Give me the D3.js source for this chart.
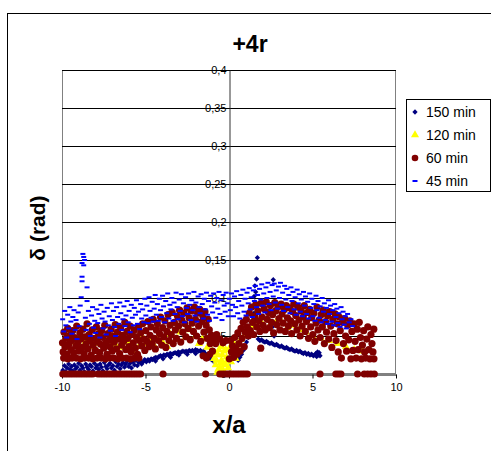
<!DOCTYPE html>
<html><head><meta charset="utf-8">
<script src="https://cdn.jsdelivr.net/npm/d3@7"></script>
<style>body{margin:0;background:#fff}svg{display:block}text{font-family:"Liberation Sans",Arial,sans-serif}</style>
</head><body>
<script>
const titleText = "+4r";
const xLabel = "x/a";
const yLabel = "δ (rad)";
const xTicks = [-10, -5, 0, 5, 10];
const yTicks = [0, 0.05, 0.1, 0.15, 0.2, 0.25, 0.3, 0.35, 0.4];
const yTickLabels = ["0", "0,05", "0,1", "0,15", "0,2", "0,25", "0,3", "0,35", "0,4"];
const seriesNames = ["150 min", "120 min", "60 min", "45 min"];
const seriesColors = ["#000080", "#FFFF00", "#800000", "#0000FF"];

const s150 = [[-9.95,0.005],[-9.85,0.011],[-9.78,0.003],[-9.7,0.008],[-9.6,0.013],[-9.52,0.006],[-9.43,0.010],[-9.35,0.004],[-9.26,0.012],[-9.18,0.007],[-9.1,0.009],[-9.0,0.014],[-8.92,0.005],[-8.83,0.011],[-8.75,0.008],[-8.66,0.003],[-8.58,0.013],[-8.5,0.009],[-8.41,0.006],[-8.32,0.012],[-8.24,0.010],[-8.15,0.004],[-8.06,0.014],[-7.98,0.008],[-7.9,0.011],[-7.81,0.006],[-7.72,0.013],[-7.64,0.009],[-7.55,0.004],[-7.46,0.015],[-7.38,0.010],[-7.3,0.007],[-7.21,0.012],[-7.12,0.014],[-7.04,0.008],[-6.95,0.011],[-6.86,0.005],[-6.78,0.016],[-6.7,0.010],[-6.61,0.013],[-6.52,0.007],[-6.44,0.012],[-6.35,0.015],[-6.26,0.009],[-6.18,0.013],[-6.1,0.017],[-6.01,0.010],[-5.92,0.014],[-5.84,0.008],[-5.75,0.016],[-5.66,0.012],[-5.58,0.018],[-5.49,0.011],[-5.4,0.015],[-5.32,0.017],[-5.23,0.013],[-5.14,0.016],[-5.05,0.019],
[-4.95,0.016],[-4.85,0.019],[-4.76,0.017],[-4.66,0.020],[-4.57,0.019],[-4.47,0.021],[-4.38,0.022],[-4.28,0.021],[-4.19,0.023],[-4.1,0.024],[-4.0,0.023],[-3.9,0.025],[-3.8,0.024],[-3.71,0.026],[-3.61,0.025],[-3.52,0.027],[-3.42,0.026],[-3.33,0.027],[-3.23,0.028],[-3.14,0.027],[-3.04,0.029],[-2.95,0.028],[-2.85,0.029],[-2.76,0.030],[-2.66,0.029],[-2.57,0.030],[-2.47,0.029],[-2.38,0.031],[-2.28,0.030],[-2.19,0.031],[-2.09,0.030],[-2.0,0.032],[-1.9,0.031],[-1.81,0.030],[-1.71,0.031],[-1.62,0.029],[-1.52,0.030],[-1.43,0.027],[-1.33,0.025],[-1.24,0.023],[-1.14,0.021],[-1.05,0.019],[-0.95,0.017],[-4.4,0.017],[-3.95,0.020],[-3.5,0.022],[-3.0,0.025],[-2.5,0.026],[-2.0,0.027],[-1.6,0.026],
[0.55,0.018],[0.65,0.022],[0.75,0.026],[0.85,0.031],[0.95,0.036],[1.05,0.042],[1.15,0.048],[1.22,0.055],[1.3,0.060],[1.38,0.066],[1.45,0.072],[1.5,0.080],[1.48,0.088],[1.55,0.095],[1.5,0.102],[1.6,0.108],[1.55,0.116],[1.65,0.125],[1.7,0.153],[2.65,0.124],[1.7,0.085],[1.62,0.070],[2.6,0.062],[2.7,0.050],[1.75,0.060],
[1.75,0.046],[1.85,0.044],[1.95,0.045],[2.05,0.043],[2.15,0.042],[2.25,0.043],[2.35,0.041],[2.45,0.040],[2.55,0.041],[2.65,0.039],[2.75,0.038],[2.85,0.039],[2.95,0.037],[3.05,0.036],[3.15,0.037],[3.25,0.035],[3.35,0.034],[3.45,0.035],[3.55,0.033],[3.65,0.032],[3.75,0.033],[3.85,0.031],[3.95,0.030],[4.05,0.031],[4.15,0.029],[4.25,0.030],[4.35,0.028],[4.45,0.027],[4.55,0.028],[4.65,0.026],[4.75,0.027],[4.85,0.025],[4.95,0.026],[5.05,0.024],[5.15,0.025],[5.25,0.023],[5.35,0.025],[5.45,0.024],[5.4,0.028],[5.3,0.029],[5.2,0.027]];

const s120 = [[-9.9,0.040],[-9.8,0.046],[-9.7,0.035],[-9.5,0.050],[-9.3,0.042],[-9.1,0.038],[-8.9,0.047],[-8.6,0.043],[-8.4,0.051],[-8.2,0.036],[-8.0,0.045],[-7.8,0.040],[-7.6,0.048],[-7.4,0.037],[-7.2,0.043],[-7.0,0.050],[-6.8,0.039],[-6.6,0.045],[-6.4,0.035],[-6.2,0.047],[-6.0,0.041],[-5.8,0.030],[-5.6,0.044],[-5.4,0.036],[-5.2,0.049],[-5.0,0.040],[-4.8,0.045],[-4.5,0.038],[-4.3,0.048],[-4.0,0.043],[-3.7,0.036],[-3.5,0.052],[-3.2,0.045],[-2.9,0.055],[-2.6,0.048],[-2.3,0.058],[-2.0,0.050],[-1.8,0.040],[-1.6,0.046],[-1.3,0.035],[-1.0,0.030],[-0.9,0.020],[-0.8,0.012],[-0.7,0.002],[-0.65,0.025],[-0.55,0.008],[-0.45,0.018],[-0.35,0.005],[-0.3,0.030],[-0.22,0.013],[-0.15,0.022],[-0.05,0.008],[0.05,0.035],[0.12,0.016],[0.25,0.042],[0.3,0.026],[0.4,0.020],[0.45,0.038],[0.55,0.030],[0.7,0.045],[-0.85,0.028],[-0.75,0.018],[-0.6,0.032],[-0.5,0.015],[-0.4,0.025],[-0.3,0.012],[-0.2,0.032],[-0.1,0.018],[-0.45,0.036],[-0.65,0.006],[0.9,0.050],[1.2,0.055],[1.4,0.062],[1.55,0.064],[2.0,0.066],[2.4,0.062],[2.8,0.068],[3.2,0.067],[3.5,0.061],[3.8,0.064],[4.2,0.058],[4.6,0.055],[5.0,0.050],[5.5,0.047],[6.0,0.044],[6.5,0.040],[7.0,0.036],[7.5,0.032],[8.0,0.030]];

const s60 = [[-9.95,0],[-9.8,0],[-9.65,0],[-9.5,0],[-9.35,0],[-9.2,0],[-9.05,0],[-8.9,0],[-8.75,0],[-8.6,0],[-8.45,0],[-8.3,0],[-8.15,0],[-7.85,0],[-7.7,0],[-7.55,0],[-7.4,0],[-7.25,0],[-7.1,0],[-6.95,0],[-6.8,0],[-6.65,0],[-6.5,0],[-6.35,0],[-6.2,0],[-6.05,0],[-5.9,0],[-5.75,0],[-5.6,0],[-5.45,0],[-5.3,0],[-3.95,0],[-1.4,0],[-0.55,0],[-0.4,0],[-0.25,0],[-0.1,0],[0.05,0],[0.2,0],[0.35,0],[0.5,0],[0.65,0],[0.8,0],[0.95,0],[1.1,0],[5.45,0],[6.4,0],[6.55,0],[6.7,0],[7.7,0],[8.1,0],[8.3,0],[8.5,0],[8.7,0],
[-9.9,0.021],[-9.65,0.020],[-9.4,0.021],[-9.15,0.021],[-8.9,0.020],[-8.65,0.021],[-8.4,0.021],[-8.15,0.020],[-7.9,0.021],[-7.65,0.021],[-7.4,0.020],[-7.15,0.021],[-6.9,0.021],[-6.65,0.020],[-6.4,0.021],[-6.15,0.021],[-5.9,0.020],[-5.65,0.021],[-5.4,0.021],
[-9.97,0.041],[-9.93,0.029],[-9.88,0.055],[-9.82,0.036],[-9.76,0.047],[-9.7,0.026],[-9.66,0.060],[-9.6,0.039],[-9.53,0.051],[-9.47,0.032],[-9.42,0.044],[-9.36,0.057],[-9.3,0.028],[-9.24,0.048],[-9.17,0.037],[-9.12,0.063],[-9.05,0.042],[-8.99,0.030],[-8.93,0.054],[-8.87,0.046],[-8.8,0.035],[-8.74,0.059],[-8.68,0.027],[-8.62,0.049],[-8.55,0.040],[-8.5,0.066],[-8.44,0.033],[-8.38,0.052],[-8.31,0.044],[-8.25,0.025],[-8.19,0.058],[-8.13,0.038],[-8.06,0.047],[-8.0,0.031],[-7.94,0.062],[-7.88,0.043],[-7.81,0.053],[-7.75,0.028],[-7.69,0.039],[-7.62,0.057],[-7.56,0.048],[-7.5,0.034],[-7.44,0.064],[-7.37,0.041],[-7.31,0.026],[-7.25,0.053],[-7.18,0.045],[-7.12,0.036],[-7.06,0.059],[-7.0,0.030],[-6.93,0.050],[-6.87,0.042],[-6.81,0.065],[-6.74,0.033],[-6.68,0.055],[-6.62,0.046],[-6.55,0.027],[-6.49,0.061],[-6.43,0.038],[-6.37,0.051],[-6.3,0.043],[-6.24,0.068],[-6.18,0.032],[-6.11,0.056],[-6.05,0.047],[-5.99,0.036],[-5.92,0.063],[-5.86,0.029],[-5.8,0.052],[-5.73,0.041],[-5.67,0.058],[-5.61,0.034],[-5.55,0.049],[-5.48,0.026],[-5.42,0.062],[-5.36,0.044],[-5.29,0.054],[-5.23,0.037],[-5.17,0.066],[-5.1,0.046],
[-5.04,0.031],[-4.98,0.057],[-4.92,0.043],[-4.86,0.069],[-4.79,0.036],[-4.73,0.051],[-4.67,0.062],[-4.6,0.040],[-4.54,0.072],[-4.48,0.047],[-4.41,0.033],[-4.35,0.058],[-4.29,0.066],[-4.22,0.044],[-4.16,0.053],[-4.1,0.075],[-4.03,0.038],[-3.97,0.061],[-3.91,0.049],[-3.84,0.070],[-3.78,0.035],[-3.72,0.056],[-3.65,0.078],[-3.59,0.044],[-3.53,0.064],[-3.46,0.052],[-3.4,0.081],[-3.34,0.040],[-3.27,0.068],[-3.21,0.058],[-3.15,0.047],[-3.08,0.076],[-3.02,0.063],[-2.96,0.084],[-2.89,0.042],[-2.83,0.071],[-2.77,0.055],[-2.7,0.080],[-2.64,0.066],[-2.58,0.049],[-2.51,0.087],[-2.45,0.060],[-2.39,0.074],[-2.32,0.045],[-2.26,0.083],[-2.2,0.067],[-2.13,0.056],[-2.07,0.088],[-2.01,0.072],[-1.94,0.050],[-1.88,0.080],[-1.82,0.063],[-1.75,0.085],[-1.69,0.043],[-1.63,0.069],[-1.56,0.076],[-1.5,0.055],[-1.44,0.082],[-1.37,0.064],[-1.31,0.047],[-1.25,0.072],
[-1.18,0.058],[-1.12,0.040],[-1.05,0.051],[-0.99,0.030],[-0.93,0.046],[-0.8,0.040],[-0.74,0.052],[-0.55,0.046],[-0.36,0.041],[-0.17,0.044],[0.02,0.020],[0.09,0.044],[0.15,0.029],[0.21,0.037],[0.28,0.022],[0.34,0.048],[0.4,0.033],[0.47,0.026],[0.53,0.054],[0.59,0.040],[0.66,0.030],[0.72,0.060],[0.78,0.047],[0.85,0.068],[0.91,0.036],[0.97,0.055],[1.04,0.072],[1.1,0.062],[1.16,0.050],[-1.55,0.024],[-1.35,0.021],[-1.15,0.026],
[1.22,0.080],[1.28,0.057],[1.35,0.088],[1.41,0.068],[1.47,0.052],[1.54,0.076],[1.6,0.091],[1.66,0.062],[1.73,0.083],[1.79,0.070],[1.85,0.056],[1.9,0.034],[1.92,0.093],[1.98,0.075],[2.04,0.064],[2.1,0.086],[2.17,0.058],[2.23,0.095],[2.29,0.072],[2.36,0.081],[2.42,0.061],[2.48,0.090],[2.55,0.068],[2.61,0.078],[2.67,0.054],[2.74,0.094],[2.8,0.083],[2.86,0.065],[2.93,0.088],[2.99,0.073],[3.05,0.058],[3.12,0.092],[3.18,0.079],[3.24,0.067],[3.31,0.085],[3.37,0.056],[3.43,0.090],[3.5,0.074],[3.56,0.063],[3.62,0.087],[3.69,0.070],[3.75,0.053],[3.81,0.082],[3.88,0.092],[3.94,0.066],[4.0,0.077],[4.07,0.058],[4.13,0.088],[4.19,0.071],[4.26,0.050],[4.32,0.083],[4.38,0.063],[4.45,0.075],[4.51,0.090],[4.57,0.056],[4.64,0.069],[4.7,0.081],[4.76,0.047],
[4.83,0.085],[4.89,0.062],[4.95,0.074],[5.02,0.052],[5.08,0.080],[5.14,0.043],[5.21,0.067],[5.27,0.088],[5.33,0.058],[5.4,0.071],[5.46,0.048],[5.52,0.078],[5.59,0.062],[5.65,0.084],[5.71,0.040],[5.78,0.069],[5.84,0.055],[5.9,0.077],[5.97,0.046],[6.03,0.082],[6.09,0.063],[6.16,0.035],[6.22,0.072],[6.28,0.053],[6.35,0.079],[6.41,0.044],[6.47,0.066],[6.54,0.029],[6.6,0.075],[6.66,0.057],[6.73,0.021],[6.79,0.068],[6.85,0.040],[6.92,0.073],[6.98,0.050],[7.04,0.030],[7.11,0.064],[7.17,0.045],[7.23,0.070],[7.3,0.020],[7.36,0.056],[7.42,0.031],[7.49,0.066],[7.55,0.043],[7.61,0.021],[7.68,0.059],[7.74,0.032],[7.8,0.068],[7.87,0.048],[7.93,0.020],[7.99,0.038],[8.06,0.057],[8.12,0.029],[8.18,0.021],[8.25,0.046],[8.31,0.062],[8.37,0.032],[8.44,0.020],[8.5,0.052],[8.56,0.040],[8.62,0.029],[8.67,0.059],[8.68,0.020]];

const s45 = [[-8.75,0.158],[-8.7,0.154],[-8.65,0.150],[-8.8,0.146],[-8.7,0.143],[-8.8,0.128],[-8.8,0.122],[-8.5,0.114],[-8.85,0.101],[-8.5,0.096],
[-9.96,0.072],[-9.9,0.056],[-9.84,0.083],[-9.77,0.064],[-9.72,0.048],[-9.66,0.078],[-9.6,0.060],[-9.53,0.088],[-9.47,0.069],[-9.41,0.053],[-9.35,0.075],[-9.28,0.084],[-9.22,0.058],[-9.16,0.071],[-9.1,0.046],[-9.03,0.081],[-8.97,0.063],[-8.91,0.090],[-8.6,0.074],[-8.55,0.058],[-8.42,0.083],[-8.36,0.066],[-8.3,0.050],[-8.23,0.077],[-8.17,0.088],[-8.11,0.061],[-8.04,0.070],[-7.98,0.054],[-7.92,0.085],[-7.86,0.067],[-7.79,0.079],[-7.73,0.048],[-7.67,0.091],[-7.6,0.073],[-7.54,0.060],[-7.48,0.082],[-7.42,0.069],[-7.35,0.052],[-7.29,0.087],[-7.23,0.064],[-7.17,0.076],[-7.1,0.057],[-7.04,0.093],[-6.98,0.071],[-6.92,0.083],[-6.85,0.062],[-6.79,0.050],[-6.73,0.088],[-6.67,0.075],[-6.6,0.066],[-6.54,0.094],[-6.48,0.080],[-6.42,0.058],[-6.35,0.072],[-6.29,0.089],[-6.23,0.063],[-6.17,0.077],[-6.1,0.096],[-6.04,0.068],[-5.98,0.083],[-5.92,0.055],[-5.85,0.091],[-5.79,0.074],[-5.73,0.064],[-5.67,0.087],[-5.6,0.078],[-5.54,0.097],[-5.48,0.066],[-5.42,0.082],[-5.35,0.059],[-5.29,0.092],[-5.23,0.073],[-5.17,0.085],[-5.1,0.068],[-5.04,0.099],
[-4.98,0.077],[-4.92,0.090],[-4.85,0.067],[-4.79,0.101],[-4.73,0.083],[-4.67,0.074],[-4.6,0.095],[-4.54,0.069],[-4.48,0.086],[-4.42,0.104],[-4.35,0.078],[-4.29,0.092],[-4.23,0.070],[-4.17,0.099],[-4.1,0.084],[-4.04,0.075],[-3.98,0.103],[-3.92,0.089],[-3.85,0.068],[-3.79,0.096],[-3.73,0.080],[-3.67,0.106],[-3.6,0.073],[-3.54,0.091],[-3.48,0.085],[-3.42,0.100],[-3.35,0.070],[-3.29,0.094],[-3.23,0.079],[-3.17,0.107],[-3.1,0.088],[-3.04,0.072],[-2.98,0.098],[-2.92,0.083],[-2.85,0.105],[-2.79,0.076],[-2.73,0.093],[-2.67,0.068],[-2.6,0.101],[-2.54,0.087],[-2.48,0.079],[-2.42,0.106],[-2.35,0.091],[-2.29,0.071],[-2.23,0.097],[-2.17,0.084],[-2.1,0.108],[-2.04,0.077],[-1.98,0.094],[-1.92,0.069],[-1.85,0.102],[-1.79,0.088],[-1.73,0.080],[-1.67,0.105],[-1.6,0.092],[-1.54,0.073],[-1.48,0.099],[-1.42,0.085],[-1.35,0.107],[-1.29,0.078],[-1.23,0.096],[-1.17,0.070],[-1.1,0.103],[-1.04,0.089],[-0.98,0.081],[-0.92,0.106],[-0.85,0.094],[-0.79,0.074],[-0.73,0.100],[-0.67,0.086],[-0.6,0.108],[-0.54,0.079],[-0.48,0.097],[-0.42,0.071],[-0.35,0.104],[-0.29,0.090],[-0.23,0.082],[-0.17,0.107],[-0.1,0.093],[-0.04,0.076],
[0.02,0.099],[0.08,0.084],[0.15,0.106],[0.21,0.091],[0.27,0.076],[0.33,0.102],[0.4,0.088],[0.46,0.109],[0.52,0.080],[0.58,0.096],[0.65,0.073],[0.71,0.104],[0.77,0.090],[0.83,0.111],[0.9,0.082],[0.96,0.099],[1.02,0.077],[1.08,0.107],[1.15,0.093],[1.21,0.113],[1.27,0.085],[1.33,0.101],[1.4,0.075],[1.46,0.110],[1.52,0.096],[1.58,0.116],[1.65,0.088],[1.71,0.104],[1.77,0.079],[1.83,0.112],[1.9,0.098],[1.96,0.118],[2.02,0.090],[2.08,0.106],[2.15,0.081],[2.21,0.114],[2.27,0.100],[2.33,0.120],[2.4,0.092],[2.46,0.108],[2.52,0.084],[2.58,0.117],[2.65,0.102],[2.71,0.119],[2.77,0.094],[2.83,0.110],[2.9,0.086],[2.96,0.115],[3.02,0.100],[3.08,0.120],[3.15,0.091],[3.21,0.107],[3.27,0.083],[3.33,0.116],[3.4,0.098],[3.46,0.112],[3.52,0.088],[3.58,0.104],[3.65,0.080],[3.71,0.114],[3.77,0.096],[3.83,0.108],[3.9,0.085],[3.96,0.101],[4.02,0.078],[4.08,0.111],[4.15,0.093],[4.21,0.105],[4.27,0.082],[4.33,0.098],[4.4,0.076],[4.46,0.108],[4.52,0.090],[4.58,0.102],[4.65,0.079],[4.71,0.095],[4.77,0.073],[4.83,0.106],[4.9,0.087],[4.96,0.099],[5.02,0.076],[5.08,0.092],[5.15,0.070],[5.21,0.103],[5.27,0.084],[5.33,0.096],[5.4,0.074],[5.46,0.089],[5.52,0.068],[5.58,0.100],[5.65,0.082],[5.71,0.093],[5.77,0.071],[5.83,0.087],[5.9,0.066],[5.96,0.097],[6.02,0.079],[6.08,0.090],[6.15,0.069],[6.21,0.084],[6.27,0.064],[6.33,0.092],[6.4,0.075],[6.46,0.086],[6.52,0.067],[6.58,0.080],[6.65,0.062],[6.71,0.088],[6.77,0.072],[6.83,0.082],[6.9,0.065],[6.96,0.076],[7.02,0.060],[7.1,0.079],[7.2,0.068],[7.3,0.072],[7.4,0.063]];

const W = 491, H = 451;
const svg = d3.select("body").append("svg").attr("width", W).attr("height", H);
svg.append("rect").attr("x", 7.5).attr("y", 13.5).attr("width", 500).attr("height", 500)
  .attr("fill", "#fff").attr("stroke", "#000").attr("stroke-width", 1);

const x = d3.scaleLinear().domain([-10, 10]).range([62, 396]);
const y = d3.scaleLinear().domain([0, 0.4]).range([374, 70]);

svg.append("rect").attr("x", 62.5).attr("y", 70.5).attr("width", 333).attr("height", 303)
  .attr("fill", "#fff").attr("stroke", "#808080");
svg.append("g").selectAll("line").data(yTicks.filter(d => d > 0)).join("line")
  .attr("x1", 62).attr("x2", 396)
  .attr("y1", d => Math.round(y(d)) + 0.5).attr("y2", d => Math.round(y(d)) + 0.5)
  .attr("stroke", "#000").attr("stroke-width", 1);

const yAxis = svg.append("g").attr("transform", `translate(${Math.round(x(0)) + 0.5},0)`)
  .call(d3.axisLeft(y).tickValues(yTicks).tickSize(4).tickSizeOuter(0)
    .tickFormat((d, i) => yTickLabels[i]));
yAxis.select(".domain").attr("stroke", "#333");
yAxis.selectAll("text").attr("font-size", 11).attr("fill", "#000").attr("x", -3);

const xAxis = svg.append("g").attr("transform", `translate(0,${Math.round(y(0)) + 0.5})`)
  .call(d3.axisBottom(x).tickValues(xTicks).tickSize(4).tickSizeOuter(0).tickFormat(d3.format("d")));
xAxis.select(".domain").attr("stroke", "#000");
xAxis.selectAll("text").attr("font-size", 11).attr("fill", "#000").attr("dy", "0.9em")
  .text(d => d < 0 ? "-" + Math.abs(d) : d);

const g = svg.append("g");
const diamond = d3.symbol().type(d3.symbolSquare).size(14)();
const tri = d3.symbol().type(d3.symbolTriangle).size(28)();

g.append("g").selectAll("path").data(s150).join("path")
  .attr("d", diamond).attr("fill", seriesColors[0])
  .attr("transform", d => `translate(${x(d[0])},${y(d[1])}) rotate(45)`);
g.append("g").selectAll("path").data(s120).join("path")
  .attr("d", tri).attr("fill", seriesColors[1])
  .attr("transform", d => `translate(${x(d[0])},${y(d[1])})`);
g.append("g").selectAll("circle").data(s60).join("circle")
  .attr("cx", d => x(d[0])).attr("cy", d => y(d[1])).attr("r", 3.6).attr("fill", seriesColors[2]);
g.append("g").selectAll("rect").data(s45).join("rect")
  .attr("x", d => x(d[0]) - 2.5).attr("y", d => y(d[1]) - 1).attr("width", 5).attr("height", 2)
  .attr("fill", seriesColors[3]);

svg.append("text").attr("x", 250).attr("y", 52).attr("text-anchor", "middle")
  .attr("font-size", 23).attr("font-weight", "bold").text(titleText);
svg.append("text").attr("x", 229).attr("y", 433).attr("text-anchor", "middle")
  .attr("font-size", 24).attr("font-weight", "bold").text(xLabel);
svg.append("text").attr("transform", "translate(45,228) rotate(-90)").attr("text-anchor", "middle")
  .attr("font-size", 21).attr("font-weight", "bold").text(yLabel);

const lg = svg.append("g");
lg.append("rect").attr("x", 406.5).attr("y", 99.5).attr("width", 84).attr("height", 92)
  .attr("fill", "#fff").attr("stroke", "#000");
const rowsY = [112, 135, 158, 181];
seriesNames.forEach((nm, i) => {
  const cx = 415, cy = rowsY[i];
  if (i === 0) lg.append("path").attr("d", diamond).attr("fill", seriesColors[0]).attr("transform", `translate(${cx},${cy}) rotate(45)`);
  if (i === 1) lg.append("path").attr("d", tri).attr("fill", seriesColors[1]).attr("transform", `translate(${cx},${cy})`);
  if (i === 2) lg.append("circle").attr("cx", cx).attr("cy", cy).attr("r", 3.3).attr("fill", seriesColors[2]);
  if (i === 3) lg.append("rect").attr("x", cx - 2.5).attr("y", cy - 1).attr("width", 5).attr("height", 2).attr("fill", seriesColors[3]);
  lg.append("text").attr("x", 426).attr("y", cy + 5).attr("font-size", 14)
    .attr("font-family", "'DejaVu Sans', Verdana, sans-serif").text(nm);
});
</script>
</body></html>
